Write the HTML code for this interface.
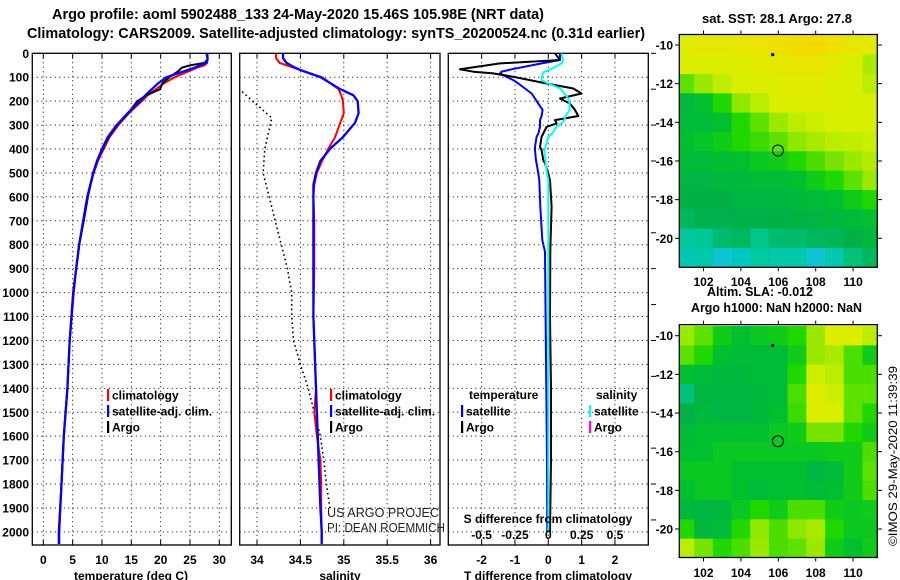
<!DOCTYPE html>
<html><head><meta charset="utf-8">
<style>
html,body{margin:0;padding:0;background:#fff;}
svg{display:block;font-family:"Liberation Sans",sans-serif;}
.b{font-weight:bold;font-size:12px;}
</style></head>
<body>
<svg id="chart" width="900" height="580" viewBox="0 0 900 580" xmlns="http://www.w3.org/2000/svg">
<defs>
<clipPath id="c1"><rect x="32.3" y="53.3" width="199" height="491.7"/></clipPath>
<clipPath id="c2"><rect x="239.7" y="53.3" width="200.3" height="491.7"/></clipPath>
<clipPath id="c3"><rect x="448.3" y="53.3" width="200" height="491.7"/></clipPath>
<clipPath id="m1"><rect x="679.3" y="34.5" width="198" height="232.8"/></clipPath>
<clipPath id="m2"><rect x="679.3" y="324.7" width="198" height="232.8"/></clipPath>
</defs>
<text x="52" y="19" font-weight="bold" font-size="15" textLength="492" lengthAdjust="spacingAndGlyphs">Argo profile: aoml 5902488_133 24-May-2020 15.46S 105.98E (NRT data)</text>
<text x="27" y="38" font-weight="bold" font-size="15" textLength="618" lengthAdjust="spacingAndGlyphs">Climatology: CARS2009. Satellite-adjusted climatology: synTS_20200524.nc (0.31d earlier)</text>
<text x="702" y="23" font-weight="bold" font-size="13" textLength="150" lengthAdjust="spacingAndGlyphs">sat. SST: 28.1 Argo: 27.8</text>
<text x="707" y="296" font-weight="bold" font-size="13" textLength="106" lengthAdjust="spacingAndGlyphs">Altim. SLA: -0.012</text>
<text x="691" y="312" font-weight="bold" font-size="13" textLength="171" lengthAdjust="spacingAndGlyphs">Argo h1000: NaN h2000: NaN</text>
<text transform="translate(897,546) rotate(-90)" font-size="12" textLength="180" lengthAdjust="spacingAndGlyphs">©IMOS 29-May-2020 11:39:39</text>
<g id="g"></g>
</svg>
<script>
// ---------- data ----------
const depthTicks = [0,100,200,300,400,500,600,700,800,900,1000,1100,1200,1300,1400,1500,1600,1700,1800,1900,2000];
const tempTicks = [0,5,10,15,20,25,30];
const salTicks = [34,34.5,35,35.5,36];
const salTickLabels = ["34","34.5","35","35.5","36"];
const tdiffTicks = [-2,-1,0,1,2];
const sdiffTicks = [-0.5,-0.25,0,0.25,0.5];
const sdiffTickLabels = ["-0.5","-0.25","0","0.25","0.5"];

const tDepths = [0,25,40,50,60,75,100,125,150,175,200,250,300,350,400,450,500,600,700,800,900,1000,1200,1400,1600,1800,2000,2050];
const tempClim = [28,28,27.9,27.5,26.2,24.8,22.4,20.6,19.2,17.8,16.8,14.6,12.8,11.3,10.3,9.3,8.6,7.5,6.8,6.15,5.6,5.2,4.5,4.1,3.5,3.1,2.6,2.6];
const tempSat = [27.9,28,27.8,26.7,25.8,24.0,21.0,19.6,18.5,17.4,16.5,14.4,12.5,11.0,10.0,9.15,8.5,7.5,6.8,6.1,5.6,5.1,4.5,4.1,3.5,3.1,2.7,2.7];
const tempArgo = [27.8,28,27.5,25.0,23.6,23.0,21.5,20.3,19.9,17.6,16.0,14.5,12.6,11.1,10.1,9.2,8.5,7.6,6.9,6.1,5.6,5.1,4.5,4.1,3.5,3.1,2.7,2.7];

const sDepths = [0,20,40,60,70,100,150,175,200,250,290,350,400,450,500,550,600,700,900,1100,1400,1500,1600,1700,1800,1900,2000,2050];
const salClim = [34.22,34.22,34.26,34.42,34.5,34.75,34.94,34.97,34.99,35.0,34.96,34.9,34.82,34.75,34.69,34.66,34.65,34.66,34.66,34.65,34.68,34.66,34.69,34.73,34.74,34.74,34.745,34.745];
const salSat = [34.3,34.3,34.34,34.44,34.5,34.73,34.96,35.11,35.16,35.17,35.13,34.99,34.84,34.73,34.68,34.65,34.65,34.65,34.65,34.65,34.68,34.69,34.7,34.71,34.72,34.73,34.745,34.745];

const argoSalDepths = [160,200,270,400,500,600,700,800,900,1000,1100,1200,1300,1400,1500,1600,1700,1800,1900];
const salArgo = [33.83,33.95,34.17,34.09,34.07,34.14,34.21,34.28,34.35,34.4,34.4,34.42,34.5,34.59,34.66,34.73,34.77,34.8,34.84];

const dDepths = [0,28,42,67,77,84,98,112,126,147,168,189,210,237,262,279,293,307,335,349,391,405,447,460,502,530,641,780,830,1100,1400,1700,2000];
const tdiffSat = [0.35,0.35,-0.2,-1.1,-1.4,-1.45,-1.25,-1.05,-0.9,-0.7,-0.5,-0.4,-0.3,-0.17,-0.2,-0.25,-0.25,-0.25,-0.3,-0.35,-0.4,-0.4,-0.37,-0.35,-0.3,-0.27,-0.24,-0.18,-0.1,-0.08,-0.06,-0.04,-0.03];
const tdiffArgo = [0.2,0.35,-1.45,-2.65,-2.25,-1.65,-1.05,-0.55,-0.05,0.75,1.0,0.35,0.65,0.8,0.9,0.2,0.25,-0.05,-0.15,-0.2,-0.25,-0.2,-0.15,-0.1,0,0.05,0.1,0.07,0.06,0.05,0.08,0.08,0.05];
const sdiffSat = [0.1,0.11,0.1,0.02,-0.03,-0.04,-0.05,-0.05,0.0,0.09,0.12,0.15,0.16,0.16,0.13,0.12,0.1,0.06,0.03,0,-0.02,-0.03,-0.02,-0.02,-0.01,0,0,0,0,0,0,0,0];

const mapLons = [101,102,103,104,105,106,107,108,109,110,111];
const mapLats = [-10,-11,-12,-13,-14,-15,-16,-17,-18,-19,-20,-21];
const lonTicks = [102,104,106,108,110];
const latTicks = [-10,-12,-14,-16,-18,-20];
const sstGrid = [
[.82,.85,.85,.86,.88,.9,.92,.93,.9,.86,.84],
[.8,.8,.82,.82,.84,.85,.86,.86,.84,.8,.72],
[.62,.7,.76,.8,.82,.82,.84,.84,.82,.8,.75],
[.4,.45,.55,.68,.75,.8,.82,.82,.82,.8,.8],
[.42,.42,.45,.55,.62,.7,.75,.78,.8,.8,.8],
[.45,.47,.5,.55,.58,.62,.68,.72,.75,.76,.78],
[.42,.42,.44,.45,.48,.5,.55,.6,.65,.7,.74],
[.38,.38,.4,.4,.42,.42,.45,.5,.55,.62,.7],
[.36,.36,.36,.38,.38,.38,.4,.42,.45,.5,.55],
[.32,.34,.34,.35,.35,.36,.37,.38,.4,.42,.45],
[.22,.24,.3,.32,.26,.3,.3,.32,.33,.36,.4],
[.18,.2,.1,.15,.22,.2,.2,.1,.18,.28,.32]];
const slaGrid = [
[.7,.62,.5,.45,.48,.5,.55,.7,.82,.82,.75],
[.62,.55,.45,.42,.42,.42,.5,.7,.72,.6,.5],
[.45,.42,.4,.4,.42,.42,.55,.78,.75,.6,.6],
[.28,.38,.38,.38,.4,.42,.6,.82,.78,.62,.62],
[.35,.4,.38,.38,.4,.45,.58,.82,.8,.62,.55],
[.42,.45,.45,.45,.45,.48,.5,.65,.65,.55,.5],
[.45,.45,.48,.48,.48,.48,.48,.48,.5,.5,.6],
[.48,.48,.48,.45,.45,.45,.45,.38,.42,.5,.62],
[.45,.48,.48,.45,.42,.45,.45,.42,.45,.5,.6],
[.4,.38,.4,.48,.55,.5,.6,.6,.5,.48,.5],
[.55,.4,.42,.55,.68,.6,.68,.72,.55,.48,.48],
[.75,.65,.55,.6,.7,.6,.62,.7,.5,.45,.5]];
const floatLon = 105.98, floatLat = -15.46;
const markLon = 105.7, markLat = -10.5;

// ---------- scales ----------
const PT = 53.3, PB = 545;
const yD = d => 53.3 + d*0.2393;
const xT = t => 43.3 + t*5.867;
const xS = s => 257 + (s-34)*86.8;
const xTD = v => 548.3 + v*33.33;
const xSD = v => 548.3 + v*133.33;
const panels = [{x0:32.3,x1:231.3,clip:'c1'},{x0:239.7,x1:440,clip:'c2'},{x0:448.3,x1:648.3,clip:'c3'}];
const mapX = lon => 778.3 + (lon-106)*18.7;
const map1Y = lat => 45 + (-10-lat)*19.33;
const map2Y = lat => 335.7 + (-10-lat)*19.33;

const NS='http://www.w3.org/2000/svg';
const root=document.getElementById('g');
function mk(tag,attrs,parent){const e=document.createElementNS(NS,tag);for(const k in attrs)e.setAttribute(k,attrs[k]);(parent||root).appendChild(e);return e;}

const stops=[[0,[48,184,240]],[0.15,[0,200,192]],[0.25,[0,200,144]],[0.35,[0,176,72]],[0.45,[0,192,48]],[0.55,[32,216,0]],[0.68,[144,232,0]],[0.8,[216,240,0]],[0.9,[240,224,0]],[1,[248,200,0]]];
function cmap(v){for(let i=1;i<stops.length;i++){if(v<=stops[i][0]){const a=stops[i-1],b=stops[i],f=(v-a[0])/(b[0]-a[0]);return 'rgb('+a[1].map((c,j)=>Math.round(c+(b[1][j]-c)*f)).join(',')+')';}}return 'rgb(248,200,0)';}

// ---------- profile panels ----------
panels.forEach((p,pi)=>{
  const fr=mk('rect',{x:p.x0,y:PT,width:p.x1-p.x0,height:PB-PT,fill:'#fff',stroke:'#000','stroke-width':1.3});
  
  
  depthTicks.forEach(d=>{
    if(d===0)return;
    const l=mk('line',{x1:p.x0,x2:p.x1,y1:yD(d),y2:yD(d),stroke:'#000','stroke-width':1,'stroke-dasharray':'1 3.5'});
    
    
  });
});
depthTicks.forEach(d=>{
  const t=mk('text',{x:29,y:yD(d)+4.5,'text-anchor':'end','class':'b'});
  t.textContent=d;
  
  
});
function xgrid(ticks,labels,fx,p,suffix){
  ticks.forEach((v,i)=>{
    const x=fx(v);
    const l=mk('line',{x1:x,x2:x,y1:PT,y2:PB,stroke:'#000','stroke-width':1,'stroke-dasharray':'1 3.5'});
    
    
    mk('line',{x1:x,x2:x,y1:PT,y2:PT+5,stroke:'#000'});
    mk('line',{x1:x,x2:x,y1:PB,y2:PB-5,stroke:'#000'});
    const t=mk('text',{x:x,y:564,'text-anchor':'middle','class':'b'});
    t.textContent=labels[i];
    
    
  });
}
xgrid(tempTicks,tempTicks.map(String),xT,panels[0],'temperature');
xgrid(salTicks,salTickLabels,xS,panels[1],'salinity');
xgrid(tdiffTicks,tdiffTicks.map(String),xTD,panels[2],'tdiff');

function axTitle(x,txt,name){const t=mk('text',{x:x,y:580,'text-anchor':'middle','class':'b','font-size':'13'});t.textContent=txt;}
axTitle(131,'temperature (deg C)','x-axis-title-temperature');
axTitle(340,'salinity','x-axis-title-salinity');
axTitle(548,'T difference from climatology','x-axis-title-tdiff');

function series(depths,vals,fx,clip,color,w,name,dash){
  const pts=depths.map((d,i)=>fx(vals[i]).toFixed(1)+','+yD(d).toFixed(1)).join(' ');
  const a={points:pts,fill:'none',stroke:color,'stroke-width':w,'clip-path':'url(#'+clip+')','stroke-linejoin':'round'};
  if(dash)a['stroke-dasharray']=dash;
  const pl=mk('polyline',a);
  
  
}
series(tDepths,tempClim,xT,'c1','#f00',2,'temperature-climatology-line');
series(tDepths,tempArgo,xT,'c1','#000',2,'temperature-argo-line');
series(tDepths,tempSat,xT,'c1','#00f',2.3,'temperature-satellite-line');
series(argoSalDepths,salArgo,xS,'c2','#000',1.6,'salinity-argo-dotted-line','1.6 3');
series(sDepths,salClim,xS,'c2','#f00',2,'salinity-climatology-line');
series(sDepths,salSat,xS,'c2','#00f',2.3,'salinity-satellite-line');
series(dDepths,tdiffSat,xTD,'c3','#00f',2,'tdiff-satellite-line');
series(dDepths,tdiffArgo,xTD,'c3','#000',2,'tdiff-argo-line');
series(dDepths,sdiffSat,xSD,'c3','#0ff',2,'sdiff-satellite-line');

// right ticks of panel 3
[0,150,300,450,600,750,900,1050,1200,1350,1500,1650,1800,1950].forEach(d=>mk('line',{x1:651,x2:656,y1:yD(d),y2:yD(d),stroke:'#000'}));

// S diff secondary axis text
const st=mk('text',{x:548,y:523,'text-anchor':'middle','class':'b'});st.textContent='S difference from climatology';


sdiffTicks.forEach((v,i)=>{const t=mk('text',{x:xSD(v),y:539,'text-anchor':'middle','class':'b'});t.textContent=sdiffTickLabels[i];

});

// legends
function legend(mx,y,color,txt,name){
  mk('rect',{x:mx,y:y-6,width:2.2,height:12,fill:color});
  const t=mk('text',{x:mx+5,y:y+4.5,'class':'b'});t.textContent=txt;
  
  
}
legend(107,395,'#f00','climatology','legend-climatology');
legend(107,411,'#00f','satellite-adj. clim.','legend-satellite-adj');
legend(107,427,'#000','Argo','legend-argo');
legend(330,395,'#f00','climatology','legend2-climatology');
legend(330,411,'#00f','satellite-adj. clim.','legend2-satellite-adj');
legend(330,427,'#000','Argo','legend2-argo');
const lt=mk('text',{x:469,y:399,'class':'b'});lt.textContent='temperature';


const ls=mk('text',{x:596,y:399,'class':'b'});ls.textContent='salinity';


legend(461,411,'#00f','satellite','legend3-temp-satellite');
legend(461,427,'#000','Argo','legend3-temp-argo');
legend(589,411,'#0ff','satellite','legend3-sal-satellite');
legend(589,427,'#f0f','Argo','legend3-sal-argo');

const pr1=mk('text',{x:327,y:517,'font-size':'13',fill:'#222',textLength:'112',lengthAdjust:'spacingAndGlyphs'});pr1.textContent='US ARGO PROJEC';


const pr2=mk('text',{x:327,y:532,'font-size':'13',fill:'#222',textLength:'118',lengthAdjust:'spacingAndGlyphs'});pr2.textContent='PI: DEAN ROEMMICH';



// ---------- maps ----------
function drawMap(grid,fy,clip,name,top,bottom,labelY){
  const g=mk('g',{'clip-path':'url(#'+clip+')'});
  
  
  grid.forEach((row,r)=>row.forEach((v,c)=>{
    const x0=mapX(mapLons[c]-0.5),x1=mapX(mapLons[c]+0.5),y0=fy(mapLats[r]+0.5),y1=fy(mapLats[r]-0.5);
    const cell=mk('rect',{x:x0,y:y0,width:x1-x0+0.5,height:y1-y0+0.5,fill:cmap(v)},g);
    
    
  }));
  mk('rect',{x:679.3,y:top,width:198,height:bottom-top,fill:'none',stroke:'#000','stroke-width':1.3});
  lonTicks.forEach(l=>{const x=mapX(l);
    mk('line',{x1:x,x2:x,y1:top,y2:top-4,stroke:'#000'});
    mk('line',{x1:x,x2:x,y1:bottom,y2:bottom+4,stroke:'#000'});
    const t=mk('text',{x:x,y:labelY,'text-anchor':'middle','class':'b'});t.textContent=l;
    
    });
  latTicks.forEach(l=>{const y=fy(l);
    mk('line',{x1:675,x2:679.3,y1:y,y2:y,stroke:'#000'});
    mk('line',{x1:877.3,x2:882,y1:y,y2:y,stroke:'#000'});
    const t=mk('text',{x:673,y:y+4.5,'text-anchor':'end','class':'b'});t.textContent=l;
    
    });
  const c=mk('circle',{cx:mapX(floatLon),cy:fy(floatLat),r:5.5,fill:'none',stroke:'#000','stroke-width':1});
  
  
  mk('rect',{x:mapX(markLon)-1.5,y:fy(markLat)-1.5,width:3,height:3,fill:'#000'});
}
drawMap(sstGrid,map1Y,'m1','sst-map',34.5,267.3,286);
drawMap(slaGrid,map2Y,'m2','sla-map',324.7,557.5,577);
</script>
</body></html>
